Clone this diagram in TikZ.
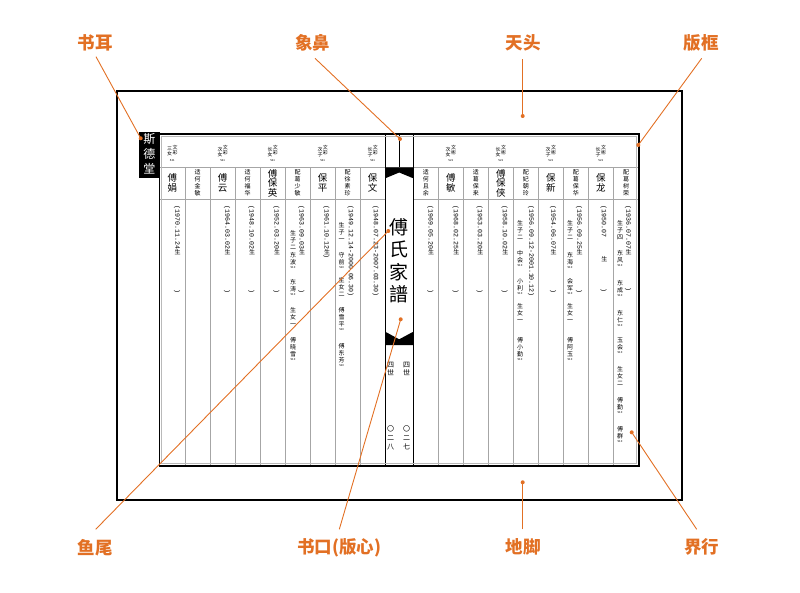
\documentclass[tikz,border=0pt]{standalone}
\usepackage{fontspec}
\setmainfont{Noto Sans CJK SC}
\newfontfamily\dfont{Liberation Mono}
\definecolor{lab}{RGB}{226,112,36}
\def\vtendmark{}
\def\vtend{\vtendmark}
\def\vtl#1{\ifx#1\vtend\else\hbox{#1}\expandafter\vtl\fi}
\newcommand\vstk[2]{\vbox{\baselineskip=#1\relax\lineskip=0pt\lineskiplimit=-\maxdimen\expandafter\vtl#2\vtend}}
\newcommand\nmtiny[2]{\vbox{\offinterlineskip\vstk{7pt}{#1}\kern1.6pt\hbox to 6pt{\hss\fontsize{2.8}{3}\selectfont#2\hss}}}
\newcommand\dte[1]{{\dfont\fontsize{6.6}{8}\selectfont#1}}
\newcommand\upc[1]{\raisebox{-0.6pt}{\rotatebox{90}{\fontsize{6}{6}\selectfont#1}}}
\newcommand\vrot[1]{\rotatebox{-90}{#1}}
\newcommand\dsh[2]{\vrot{\dte{#1}\upc{生}\hspace{#2}\dte{)}}}
\tikzset{
 sep/.style={draw=gray!70, line width=0.8pt},
 bt/.style={inner sep=0pt, anchor=north, font=\fontsize{6}{7}\selectfont},
 big/.style={inner sep=0pt, font=\fontsize{9.5}{10}\selectfont},
 sm/.style={inner sep=0pt, font=\fontsize{6}{7}\selectfont},
 hd/.style={inner sep=0pt, anchor=north, font=\fontsize{5}{5}\selectfont},
 tiny/.style={inner sep=0pt, font=\fontsize{2.8}{3}\selectfont},
 dtn/.style={inner sep=0pt, anchor=north},
 cc/.style={inner sep=0pt, anchor=north, font=\fontsize{7}{7}\selectfont},
 lbl/.style={text=lab, font=\fontsize{17.5}{18}\selectfont\bfseries, inner sep=0pt},
 conn/.style={draw=lab, line width=0.9pt},
 dot/.style={fill=lab}
}
\begin{document}
\begin{tikzpicture}[x=1pt,y=-1pt]
\useasboundingbox (0,0) rectangle (800,592);
% page
\draw[line width=2pt] (117,91) rectangle (682,500);
% column separators
\foreach \x in {185.2,210.2,235.2,260.2,285.2,310.2,335.2,360.2,438.3,463.3,488.3,513.3,538.3,563.3,588.3,613.3}
  \draw[sep] (\x,167) -- (\x,466);
\draw[sep] (159.5,167) -- (639,167);
\draw[sep] (159.5,199) -- (385.2,199);
\draw[sep] (413.3,199) -- (639,199);
% centre column
\draw[line width=0.9pt] (385.2,134) -- (385.2,466);
\draw[line width=0.9pt] (413.3,134) -- (413.3,466);
\draw[line width=0.7pt] (399.2,134) -- (399.2,167);
% fish tails
\fill (385.2,167.3) -- (413.3,167.3) -- (413.3,178.3) -- (399.2,172.5) -- (385.2,178.3) -- cycle;
\fill (385.2,331.7) -- (399.2,339.3) -- (413.3,331.7) -- (413.3,345) -- (385.2,345) -- cycle;
% frame
\draw[gray!55, line width=0.7pt] (161.7,136.2) rectangle (636.8,463.8);
\draw[line width=1.6pt] (159.5,134) rectangle (639,466);
% book ear
\fill (139,132) rectangle (159.5,178.3);
\node[text=white, inner sep=0pt, font=\fontsize{12}{12}\selectfont] (ear) at (149.3,154) {\vstk{15pt}{斯德堂}};
% header labels
\foreach \c/\r/\w [count=\i] in {172.3/三女/文彩,222.7/次女/文彩,272.7/长女/文彩,322.7/次子/文彩,372.7/长子/文彩,450.8/次女/文彬,500.8/长女/文彬,550.8/次子/文彬,600.8/长子/文彬}{
  \node[hd] (hw\i) at (\c+2.7,145) {\vstk{5pt}{\w}};
  \node[hd] (hr\i) at (\c-2.7,146.7) {\vstk{5pt}{\r}};
  \node[tiny] (hc\i) at (\c,160.5) {521};
}
% name row
\foreach \c/\nm [count=\i] in {172.3/傅娟,222.7/傅云,272.7/傅保英,322.7/保平,372.7/保文,450.8/傅敏,500.8/傅保侠,550.8/保新,600.8/保龙}
  \node[big] (nb\i) at (\c,183) {\vstk{9.5pt}{\nm}};
\foreach \c/\nm [count=\i] in {197.7/适何金敏,247.7/适何福华,297.7/配葛少敏,347.7/配徐素珍,425.8/适何且余,475.8/适葛保来,525.8/配妃朝玲,575.8/配葛保华,626/配葛树荣}
  \node[sm] (ns\i) at (\c,183) {\vstk{7pt}{\nm}};
% dates left page
\node[dtn] (dl1) at (177.3,205.5) {\dsh{(1970.11.24}{35pt}};
\node[dtn] (dl3) at (227.3,205.5) {\dsh{(1964.03.02}{35pt}};
\node[dtn] (dl4) at (251.7,205.5) {\dsh{(1948.10.02}{35pt}};
\node[dtn] (dl5) at (276.7,205.5) {\dsh{(1952.03.20}{35pt}};
\node[dtn] (dl6) at (301.7,205.5) {\dsh{(1963.09.03}{35pt}};
\node[dtn] (dl7) at (326.7,205.5) {\dsh{(1961.10.12}{0pt}};
\node[dtn] (dl8) at (350.5,205.5) {\vrot{\dte{(1949.12.14-2000.06.30)}}};
\node[dtn] (dl9) at (375.5,205.5) {\vrot{\dte{(1948.07.23-2007.03.30)}}};
% dates right page
\node[dtn] (dr1) at (430.7,205.5) {\dsh{(1969.05.20}{35pt}};
\node[dtn] (dr2) at (456,205.5) {\dsh{(1968.02.25}{35pt}};
\node[dtn] (dr3) at (480,205.5) {\dsh{(1953.03.20}{35pt}};
\node[dtn] (dr4) at (505,205.5) {\dsh{(1958.10.02}{35pt}};
\node[dtn] (dr5) at (531,205.5) {\vrot{\dte{(1956.09.12-2001.10.12)}}};
\node[dtn] (dr6) at (553.3,205.5) {\dsh{(1954.06.07}{35pt}};
\node[dtn] (dr7) at (579.3,205.5) {\dsh{(1956.09.25}{35pt}};
\node[dtn] (dr8) at (604,205.5) {\vrot{\dte{(1950.07}\hspace{19pt}\upc{生}\hspace{27pt}\dte{)}}};
\node[dtn] (dr9) at (628.3,205.5) {\dsh{(1936.07.07}{33pt}};
% children, left page
\node[bt] (c6a) at (293,230) {\vstk{7pt}{生子二}};
\node[bt] (c6b) at (293,252) {\nmtiny{东波}{510}};
\node[bt] (c6c) at (293,279) {\nmtiny{东涛}{510}};
\node[bt] (c6d) at (293,307) {\vstk{7pt}{生女一}};
\node[bt] (c6e) at (293,337) {\nmtiny{傅晓雪}{510}};
\node[bt] (c8a) at (341.7,222) {\vstk{7pt}{生子一}};
\node[bt] (c8b) at (341.7,252) {\nmtiny{守前}{510}};
\node[bt] (c8c) at (341.7,277) {\vstk{7pt}{生女二}};
\node[bt] (c8d) at (341.7,307) {\nmtiny{傅雪平}{510}};
\node[bt] (c8e) at (341.7,343) {\nmtiny{傅东芳}{510}};
% children, right page
\node[bt] (r5a) at (520,220) {\vstk{7pt}{生子二}};
\node[bt] (r5b) at (520,250) {\nmtiny{中会}{510}};
\node[bt] (r5c) at (520,278) {\nmtiny{小利}{510}};
\node[bt] (r5d) at (520,303) {\vstk{7pt}{生女一}};
\node[bt] (r5e) at (520,337) {\nmtiny{傅小勤}{510}};
\node[bt] (r7a) at (570,220) {\vstk{7pt}{生子二}};
\node[bt] (r7b) at (570,252) {\nmtiny{东海}{510}};
\node[bt] (r7c) at (570,278) {\nmtiny{会军}{510}};
\node[bt] (r7d) at (570,303) {\vstk{7pt}{生女一}};
\node[bt] (r7e) at (570,337) {\nmtiny{傅阿玉}{510}};
\node[bt] (r9a) at (620,220) {\vstk{7pt}{生子四}};
\node[bt] (r9b) at (620,250) {\nmtiny{东风}{510}};
\node[bt] (r9c) at (620,280) {\nmtiny{东成}{510}};
\node[bt] (r9d) at (620,310) {\nmtiny{东仁}{510}};
\node[bt] (r9e) at (620,338) {\nmtiny{玉会}{510}};
\node[bt] (r9f) at (620,366) {\vstk{7pt}{生女二}};
\node[bt] (r9g) at (620,397) {\nmtiny{傅勤}{510}};
\node[bt] (r9h) at (620,426) {\nmtiny{傅群}{510}};
% centre column text
\node[inner sep=0pt, font=\fontsize{19}{19}\selectfont] (title) at (399.2,261) {\vstk{22.5pt}{傅氏家譜}};
\node[cc] (sh1) at (406.7,362) {\vstk{8.5pt}{四世}};
\node[cc] (sh2) at (390.5,362) {\vstk{8.5pt}{四世}};
\node[cc] (pg1) at (406.7,425) {\vstk{9pt}{〇二七}};
\node[cc] (pg2) at (390.5,425) {\vstk{9pt}{〇二八}};
% labels
\node[lbl] (t1) at (95.3,42.5) {书耳};
\node[lbl] (t2) at (312.8,42.5) {象鼻};
\node[lbl] (t3) at (523.3,42.5) {天头};
\node[lbl] (t4) at (701.3,42.5) {版框};
\node[lbl] (b1) at (95.3,547.5) {鱼尾};
\node[lbl] (b2) at (339,547.5) {书口(版心)};
\node[lbl] (b3) at (523.3,547) {地脚};
\node[lbl] (b4) at (701.5,547) {界行};
% connector ends
\coordinate (s1) at (96,56.7);   \coordinate (e1) at (140.7,138.3);
\coordinate (s2) at (315,58.3);  \coordinate (e2) at (400,139);
\coordinate (s3) at (522.7,59.3);\coordinate (e3) at (522.7,116);
\coordinate (s4) at (701.7,58.3);\coordinate (e4) at (638.3,145);
\coordinate (s5) at (95.7,529.3);\coordinate (e5) at (388.3,231);
\coordinate (s6) at (339.3,529.3);\coordinate (e6) at (400.7,319.3);
\coordinate (s7) at (522.7,529.3);\coordinate (e7) at (522.7,482.3);
\coordinate (s8) at (696.7,529.3);\coordinate (e8) at (631.7,432.3);
\foreach \i in {1,...,8}{
  \draw[conn] (s\i) -- (e\i);
  \fill[dot] (e\i) circle[radius=2pt];
}
\end{tikzpicture}
\end{document}
